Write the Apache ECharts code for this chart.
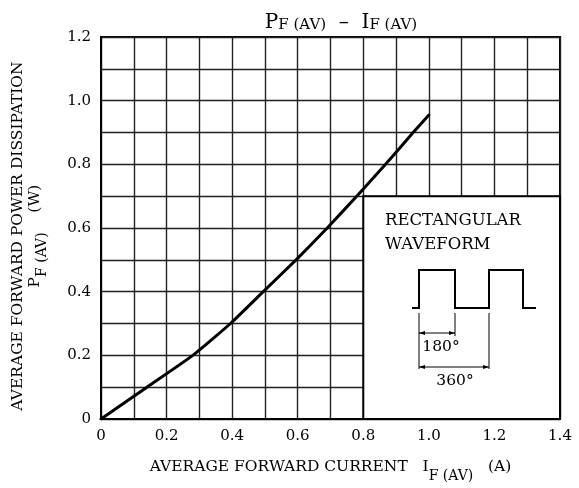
<!DOCTYPE html>
<html>
<head>
<meta charset="utf-8">
<script src="https://cdn.jsdelivr.net/npm/echarts@6/dist/echarts.min.js"></script>
<style>
html,body{margin:0;padding:0;background:#fff;}
#c{width:579px;height:488px;}
</style>
</head>
<body>
<div id="c"></div>
<script>
// Data
const currentA = [0, 0.14, 0.28, 0.395, 0.495, 0.595, 0.69, 0.78, 0.868, 0.952, 1.0];
const powerW   = [0, 0.10, 0.20, 0.30, 0.40, 0.50, 0.60, 0.70, 0.80, 0.90, 0.955];
const xTicks = ['0', '0.2', '0.4', '0.6', '0.8', '1.0', '1.2', '1.4'];
const yTicks = ['0', '0.2', '0.4', '0.6', '0.8', '1.0', '1.2'];
const insetRange = { x0: 0.8, x1: 1.4, y0: 0, y1: 0.7 };

const FONT = 'DejaVu Serif';
const chart = echarts.init(document.getElementById('c'), null, {renderer: 'canvas'});

function lbl(list) {
  return function (v) {
    const k = Math.round(v * 10);
    if (k % 2) return '';
    return list[k / 2] || '';
  };
}

const curve = currentA.map((x, i) => [x, powerW[i]]);

const option = {
  backgroundColor: '#fff',
  animation: false,
  textStyle: { fontFamily: FONT, color: '#000' },
  title: {
    text: '{a|P}{b|F (AV)}{a|  –  I}{b|F (AV)}',
    left: 336, top: 0, textAlign: 'center',
    textStyle: {
      fontWeight: 'normal',
      rich: {
        a: { fontFamily: FONT, fontSize: 20, fontWeight: 'normal', color: '#000', lineHeight: 28, verticalAlign: 'bottom' },
        b: { fontFamily: FONT, fontSize: 15, fontWeight: 'normal', color: '#000', lineHeight: 24, verticalAlign: 'bottom' }
      }
    }
  },
  grid: { left: 101, right: 19, top: 37, bottom: 68, show: true, borderColor: '#000', borderWidth: 2, backgroundColor: 'transparent' },
  xAxis: {
    type: 'value', min: 0, max: 1.4, interval: 0.1,
    axisLine: { show: true, lineStyle: { color: '#000', width: 2 } },
    axisTick: { show: false },
    axisLabel: { formatter: lbl(xTicks), fontFamily: FONT, fontSize: 15, color: '#000', margin: 10 },
    splitLine: { show: true, lineStyle: { color: '#222', width: 1.4 } },
    name: '{t|AVERAGE FORWARD CURRENT   I}{s|F (AV)}{t|   (A)}',
    nameLocation: 'middle', nameGap: 40,
    nameTextStyle: {
      rich: {
        t: { fontFamily: FONT, fontSize: 15.5, color: '#000', lineHeight: 24, verticalAlign: 'top' },
        s: { fontFamily: FONT, fontSize: 14, color: '#000', lineHeight: 24, verticalAlign: 'bottom' }
      }
    }
  },
  yAxis: {
    type: 'value', min: 0, max: 1.2, interval: 0.1,
    axisLine: { show: true, lineStyle: { color: '#000', width: 2 } },
    axisTick: { show: false },
    axisLabel: { formatter: lbl(yTicks), fontFamily: FONT, fontSize: 15, color: '#000', margin: 10 },
    splitLine: { show: true, lineStyle: { color: '#222', width: 1.4 } }
  },
  series: [{
    type: 'line',
    data: curve,
    smooth: 0.15,
    showSymbol: false,
    lineStyle: { color: '#000', width: 3, join: 'round', cap: 'round' },
    z: 5,
    markArea: {
      silent: true,
      itemStyle: { color: '#fff', borderColor: '#000', borderWidth: 2 },
      data: [[{ xAxis: insetRange.x0, yAxis: insetRange.y0 }, { xAxis: insetRange.x1, yAxis: insetRange.y1 }]]
    }
  }]
};
chart.setOption(option);

// Y axis name (two rotated lines) and inset drawing
const yc = 236;
const g = [];
g.push({
  type: 'text', x: 18, y: yc, rotation: Math.PI / 2,
  style: { text: 'AVERAGE FORWARD POWER DISSIPATION', font: '15.5px "DejaVu Serif"', fill: '#000', align: 'center', verticalAlign: 'middle' }
});
g.push({
  type: 'text', x: 38, y: yc, rotation: Math.PI / 2,
  style: {
    text: '{t|P}{s|F (AV)}{t|    (W)}', align: 'center', verticalAlign: 'middle',
    rich: {
      t: { fontFamily: FONT, fontSize: 15.5, fill: '#000', lineHeight: 22, verticalAlign: 'top' },
      s: { fontFamily: FONT, fontSize: 14, fill: '#000', lineHeight: 22, verticalAlign: 'bottom' }
    }
  }
});
// Inset text
g.push({ type: 'text', x: 385, y: 221, style: { text: 'RECTANGULAR', font: '16.5px "DejaVu Serif"', fill: '#000', verticalAlign: 'middle' } });
g.push({ type: 'text', x: 385, y: 245, style: { text: 'WAVEFORM', font: '16.5px "DejaVu Serif"', fill: '#000', verticalAlign: 'middle' } });
// waveform
g.push({ type: 'polyline', shape: { points: [[412,308],[419,308],[419,270],[455,270],[455,308],[489,308],[489,270],[523,270],[523,308],[536,308]] }, style: { stroke: '#000', lineWidth: 2, fill: null } });
// extension lines
g.push({ type: 'line', shape: { x1: 419, y1: 313, x2: 419, y2: 369 }, style: { stroke: '#000', lineWidth: 1 } });
g.push({ type: 'line', shape: { x1: 455, y1: 313, x2: 455, y2: 336 }, style: { stroke: '#000', lineWidth: 1 } });
g.push({ type: 'line', shape: { x1: 489, y1: 313, x2: 489, y2: 369 }, style: { stroke: '#000', lineWidth: 1 } });
// dimension arrows
function arrow(x1, x2, y) {
  g.push({ type: 'line', shape: { x1: x1, y1: y, x2: x2, y2: y }, style: { stroke: '#000', lineWidth: 1 } });
  g.push({ type: 'polygon', shape: { points: [[x1, y], [x1 + 6, y - 2], [x1 + 6, y + 2]] }, style: { fill: '#000' } });
  g.push({ type: 'polygon', shape: { points: [[x2, y], [x2 - 6, y - 2], [x2 - 6, y + 2]] }, style: { fill: '#000' } });
}
arrow(419, 455, 333);
arrow(419, 489, 367);
g.push({ type: 'text', x: 441, y: 347, style: { text: '180°', font: '15.5px "DejaVu Serif"', fill: '#000', align: 'center', verticalAlign: 'middle' } });
g.push({ type: 'text', x: 455, y: 381, style: { text: '360°', font: '15.5px "DejaVu Serif"', fill: '#000', align: 'center', verticalAlign: 'middle' } });

chart.setOption({ graphic: { elements: g.map((e, i) => Object.assign({ id: 'g' + i, z: 100 }, e)) } });
</script>
</body>
</html>
